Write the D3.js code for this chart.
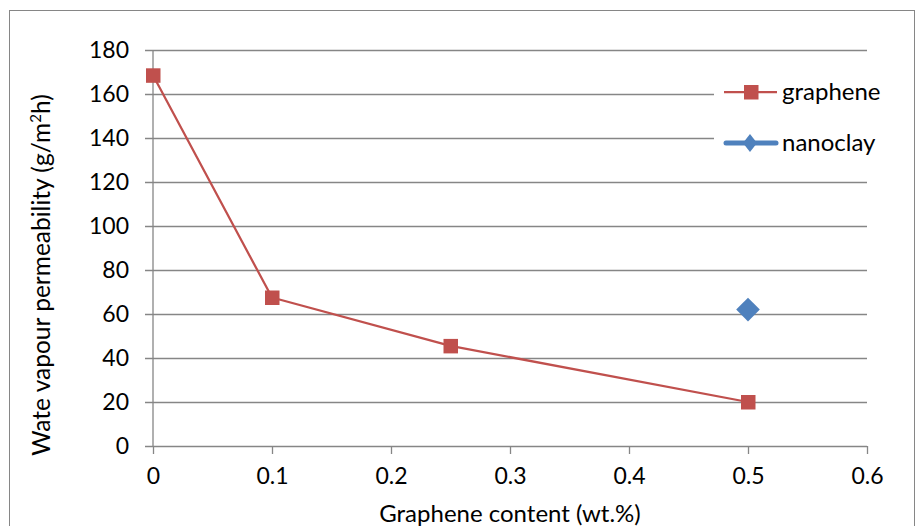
<!DOCTYPE html>
<html>
<head>
<meta charset="utf-8">
<script src="https://cdn.jsdelivr.net/npm/d3@7"></script>
<style>
  html, body { margin: 0; padding: 0; background: #fff; }
  svg text { font-family: Lato, "Open Sans", sans-serif; fill: #000; }
</style>
</head>
<body>
<svg id="chart" width="917" height="526"></svg>
<script>
// Water vapour permeability vs. filler content
const grapheneContent = [0, 0.1, 0.25, 0.5];
const grapheneWVP = [168.5, 67.5, 45.5, 20];
const nanoclayContent = [0.5];
const nanoclayWVP = [62];
const xTicks = [0, 0.1, 0.2, 0.3, 0.4, 0.5, 0.6];
const yTicks = [0, 20, 40, 60, 80, 100, 120, 140, 160, 180];
const seriesNames = ["graphene", "nanoclay"];

const red = "#C0504D", blue = "#4F81BD", gridCol = "#868686";
const svg = d3.select("#chart");

// chart border
svg.append("rect").attr("x", 9.5).attr("y", 10.5).attr("width", 905).attr("height", 530)
  .attr("fill", "none").attr("stroke", gridCol).attr("stroke-width", 1);

const x = d3.scaleLinear().domain([0, 0.6]).range([153, 867]);
const y = d3.scaleLinear().domain([0, 180]).range([446, 50]);

// horizontal gridlines with left tick stubs
const yAxis = d3.axisLeft(y).tickValues(yTicks).tickSize(-(867 - 145)).tickPadding(14)
  .tickFormat(d3.format("d"));
const gy = svg.append("g").attr("transform", "translate(145,0)").call(yAxis);
gy.select(".domain").remove();
gy.selectAll(".tick line").attr("stroke", gridCol).attr("stroke-width", 1.3);
gy.selectAll(".tick text").attr("font-size", 23).attr("x", -16);

// vertical axis line
svg.append("line").attr("x1", x(0)).attr("x2", x(0)).attr("y1", y(180)).attr("y2", y(0))
  .attr("stroke", gridCol).attr("stroke-width", 1.3);

// x axis
const xAxis = d3.axisBottom(x).tickValues(xTicks).tickSize(8).tickPadding(14)
  .tickFormat(d => d === 0 ? "0" : d3.format(".1f")(d));
const gx = svg.append("g").attr("transform", `translate(0,${y(0)})`).call(xAxis);
gx.select(".domain").remove();
gx.selectAll(".tick line").attr("stroke", gridCol).attr("stroke-width", 1.3);
gx.selectAll(".tick text").attr("font-size", 23);

// legend background
svg.append("rect").attr("x", 714).attr("y", 72).attr("width", 190).attr("height", 92).attr("fill", "#fff");

// graphene series
const line = d3.line().x(d => x(d[0])).y(d => y(d[1]));
const gData = grapheneContent.map((c, i) => [c, grapheneWVP[i]]);
svg.append("path").datum(gData).attr("d", line).attr("fill", "none")
  .attr("stroke", red).attr("stroke-width", 2.25).attr("stroke-linejoin", "round");
svg.selectAll(".gsq").data(gData).join("rect")
  .attr("x", d => x(d[0]) - 7).attr("y", d => y(d[1]) - 7)
  .attr("width", 14.5).attr("height", 14.5).attr("fill", red);

// nanoclay series
const nData = nanoclayContent.map((c, i) => [c, nanoclayWVP[i]]);
svg.selectAll(".ndm").data(nData).join("path")
  .attr("d", d3.symbol().type(d3.symbolSquare).size(280)())
  .attr("transform", d => `translate(${x(d[0])},${y(d[1])}) rotate(45)`)
  .attr("fill", blue);

// legend
const leg = svg.append("g");
const legY = [92, 143];
const legCols = [red, blue];
seriesNames.forEach((name, i) => {
  leg.append("line").attr("x1", i === 0 ? 724 : 726).attr("x2", i === 0 ? 777 : 776)
    .attr("y1", legY[i]).attr("y2", legY[i])
    .attr("stroke", legCols[i]).attr("stroke-width", i === 0 ? 2.25 : 5)
    .attr("stroke-linecap", i === 0 ? "butt" : "round");
  if (i === 0) {
    leg.append("rect").attr("x", 744).attr("y", legY[i] - 7).attr("width", 14.5).attr("height", 14.5).attr("fill", red);
  } else {
    leg.append("path").attr("d", d3.symbol().type(d3.symbolSquare).size(110)())
      .attr("transform", `translate(750,${legY[i]}) scale(0.95,1.2) rotate(45)`).attr("fill", blue);
  }
  leg.append("text").attr("x", 782).attr("y", legY[i]).attr("dy", "0.35em")
    .attr("font-size", 24).text(name);
});

// axis titles
svg.append("text").attr("x", 510).attr("y", 522).attr("text-anchor", "middle")
  .attr("font-size", 24).text("Graphene content (wt.%)");
const yt = svg.append("text").attr("transform", "translate(50,275) rotate(-90)")
  .attr("text-anchor", "middle").attr("font-size", 24.5);
yt.append("tspan").text("Wate vapour permeability (g/m");
yt.append("tspan").attr("font-size", 15).attr("dy", -9).text("2");
yt.append("tspan").attr("dy", 9).text("h)");
</script>
</body>
</html>
